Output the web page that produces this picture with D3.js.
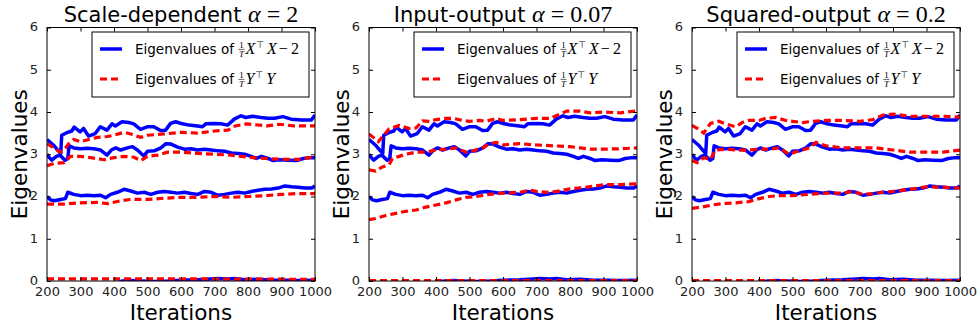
<!DOCTYPE html>
<html>
<head>
<meta charset="utf-8">
<script src="https://cdn.jsdelivr.net/npm/d3@7"></script>
<style>
  body { margin: 0; background: #fff; }
  svg { display: block; }
</style>
</head>
<body>
<div id="chart"></div>
<script>
// ---- data (iteration, eigenvalue) ----
const iterTicks = [200, 300, 400, 500, 600, 700, 800, 900, 1000];
const eigTicks = [0, 1, 2, 3, 4, 5, 6];
const titles = ["Scale-dependent", "Input-output", "Squared-output"];
const alphas = ["2", "0.07", "0.2"];

// blue: eigenvalues of (1/T) X^T X - 2, same in every panel
const blueTop = [[200,3.35],[219,3.22],[234,3.08],[241,3.02],[244,3.45],[259,3.51],[274,3.55],[281,3.64],[299,3.53],[309,3.61],[324,3.43],[344,3.49],[359,3.65],[379,3.57],[394,3.72],[404,3.67],[424,3.77],[444,3.75],[459,3.72],[479,3.59],[499,3.65],[519,3.65],[539,3.56],[554,3.57],[569,3.73],[584,3.77],[604,3.72],[624,3.69],[649,3.67],[664,3.65],[674,3.72],[699,3.73],[719,3.72],[739,3.69],[759,3.83],[779,3.91],[794,3.87],[814,3.90],[839,3.87],[859,3.85],[879,3.85],[904,3.89],[929,3.83],[959,3.81],[989,3.81],[1000,3.93]];
const blueThird = [[200,3.0],[207,2.92],[214,2.86],[228,2.95],[238,2.98],[246,2.92],[254,2.86],[262,2.9],[266,3.2],[280,3.15],[300,3.13],[320,3.14],[340,3.13],[360,3.1],[379,2.98],[392,3.1],[405,3.15],[420,3.1],[440,3.15],[455,3.18],[470,3.1],[489,2.96],[500,3.07],[520,3.08],[540,3.15],[555,3.25],[570,3.24],[590,3.17],[610,3.12],[630,3.13],[650,3.1],[670,3.12],[690,3.1],[710,3.08],[730,3.07],[750,3.03],[770,3.02],[790,3.0],[810,2.95],[825,2.9],[840,2.95],[860,2.9],[875,2.85],[895,2.87],[920,2.86],[945,2.85],[965,2.9],[985,2.92],[1000,2.92]];
const blueSecond = [[200,2.0],[210,1.92],[222,1.9],[240,1.93],[255,1.95],[262,2.1],[280,2.05],[300,2.02],[320,2.03],[340,2.02],[360,2.03],[375,1.97],[390,2.05],[410,2.1],[430,2.17],[450,2.13],[470,2.08],[490,2.1],[510,2.05],[530,2.1],[550,2.12],[570,2.1],[590,2.08],[610,2.1],[630,2.07],[650,2.05],[670,2.12],[690,2.1],[710,2.03],[730,2.05],[750,2.08],[770,2.1],[790,2.08],[810,2.12],[830,2.15],[850,2.17],[870,2.18],[890,2.2],[910,2.25],[930,2.23],[950,2.22],[970,2.2],[990,2.2],[1000,2.25]];
const blueBottom = [[200,-0.06],[410,-0.04],[425,0.0],[450,0.01],[480,0.0],[520,-0.01],[560,0.0],[600,0.02],[650,0.03],[690,0.05],[710,0.06],[740,0.05],[760,0.06],[790,0.03],[830,0.04],[870,0.02],[910,0.02],[950,0.01],[1000,0.02]];

// red: eigenvalues of (1/T) Y^T Y, one set per panel
const redScaleDep = [
  [[200,3.25],[220,3.15],[240,3.05],[255,3.15],[265,3.25],[280,3.35],[300,3.3],[325,3.35],[350,3.4],[380,3.42],[400,3.45],[430,3.52],[450,3.48],[480,3.4],[500,3.45],[550,3.48],[600,3.52],[650,3.5],[700,3.55],[740,3.57],[762,3.67],[796,3.72],[856,3.67],[896,3.71],[936,3.67],[1000,3.67]],
  [[200,2.73],[220,2.78],[250,2.8],[270,2.95],[300,2.95],[330,2.92],[370,2.87],[400,2.92],[430,2.95],[460,2.93],[480,2.85],[500,2.95],[530,2.98],[560,3.05],[600,3.05],[650,3.02],[700,3.0],[750,2.98],[800,2.93],[850,2.9],[900,2.88],[950,2.88],[1000,2.94]],
  [[200,1.82],[250,1.82],[300,1.85],[350,1.86],[380,1.83],[420,1.9],[450,1.93],[500,1.93],[550,1.96],[600,1.98],[650,1.98],[700,2.0],[750,1.98],[800,2.0],[850,2.02],[900,2.05],[950,2.07],[1000,2.07]],
  [[200,0.05],[600,0.05],[1000,0.04]]
];
const redInputOutput = [
  [[200,3.48],[228,3.3],[260,3.6],[290,3.68],[320,3.61],[340,3.62],[360,3.79],[380,3.78],[400,3.82],[430,3.85],[450,3.85],[480,3.8],[500,3.78],[530,3.8],[550,3.78],[580,3.85],[600,3.8],[650,3.82],[700,3.85],[740,3.85],[770,3.95],[790,4.02],[830,4.02],[860,3.98],[900,4.0],[950,3.98],[1000,4.03]],
  [[200,2.63],[220,2.6],[240,2.7],[260,2.75],[270,2.9],[290,2.95],[310,3.0],[340,3.05],[370,3.05],[400,3.1],[430,3.12],[460,3.15],[490,3.05],[510,3.08],[540,3.15],[560,3.25],[580,3.28],[600,3.22],[650,3.25],[700,3.22],[750,3.2],[800,3.18],[830,3.15],[860,3.12],[900,3.12],[950,3.13],[1000,3.15]],
  [[200,1.45],[220,1.48],[250,1.55],[280,1.6],[310,1.65],[340,1.68],[370,1.75],[400,1.8],[430,1.85],[460,1.92],[490,1.98],[520,2.0],[560,2.05],[600,2.08],[650,2.1],[680,2.15],[700,2.12],[730,2.1],[760,2.12],[800,2.18],[850,2.22],[900,2.28],[950,2.28],[1000,2.3]],
  [[200,0.01],[600,0.01],[1000,0.01]]
];
const redSquaredOutput = [
  [[200,3.68],[218,3.6],[235,3.5],[255,3.73],[280,3.78],[300,3.72],[330,3.65],[350,3.75],[370,3.8],[400,3.8],[420,3.85],[450,3.87],[480,3.8],[500,3.78],[530,3.75],[560,3.78],[600,3.8],[650,3.8],[700,3.78],[740,3.82],[770,3.93],[800,3.95],[850,3.9],[900,3.9],[950,3.9],[1000,3.88]],
  [[200,2.85],[215,2.8],[235,2.92],[255,2.88],[270,3.1],[300,3.12],[340,3.1],[370,3.1],[400,3.12],[430,3.12],[460,3.15],[490,3.0],[520,3.08],[550,3.15],[570,3.28],[600,3.2],[650,3.15],[700,3.15],[750,3.15],[800,3.1],[850,3.05],[900,3.05],[950,3.05],[1000,3.1]],
  [[200,1.72],[230,1.75],[260,1.8],[290,1.83],[330,1.85],[370,1.88],[400,1.95],[430,2.0],[460,2.02],[500,2.02],[550,2.05],[600,2.08],[650,2.08],[680,2.12],[710,2.05],[740,2.07],[770,2.1],[800,2.12],[850,2.17],[900,2.23],[950,2.22],[1000,2.2]],
  [[200,0.01],[600,0.01],[1000,0.01]]
];

const blueSeries = [blueTop, blueThird, blueSecond, blueBottom];
const redSeries = [redScaleDep, redInputOutput, redSquaredOutput];

// ---- layout ----
const W = 978, H = 329;
const panelLeft = [47, 369, 692];
const plotW = 268, plotTop = 27.5, plotBottom = 281;
const sans = "'DejaVu Sans', sans-serif";
const serif = "'Liberation Serif', 'DejaVu Serif', serif";

const svg = d3.select("#chart").append("svg")
  .attr("width", W)
  .attr("height", H);

const y = d3.scaleLinear().domain([0, 6]).range([plotBottom, plotTop]);

function legendLabel(g, x, yb, sym, tail) {
  const t = g.append("text")
    .attr("x", x).attr("y", yb)
    .attr("font-family", sans).attr("font-size", 13.5)
    .text("Eigenvalues of");
  // trailing space gets collapsed in svg, so add the gap by hand
  let cx = x + t.node().getComputedTextLength() + 4.5;
  // small 1/T fraction
  g.append("text").attr("x", cx + 3).attr("y", yb - 6)
    .attr("text-anchor", "middle").attr("font-family", serif).attr("font-size", 9)
    .text("1");
  g.append("line").attr("x1", cx).attr("x2", cx + 6)
    .attr("y1", yb - 4.6).attr("y2", yb - 4.6)
    .attr("stroke", "#000").attr("stroke-width", 0.6);
  g.append("text").attr("x", cx + 3).attr("y", yb + 2.8)
    .attr("text-anchor", "middle").attr("font-family", serif).attr("font-style", "italic").attr("font-size", 9)
    .text("T");
  cx += 7;
  const m = g.append("text").attr("x", cx).attr("y", yb)
    .attr("font-family", serif).attr("font-size", 16);
  m.append("tspan").attr("font-style", "italic").text(sym);
  m.append("tspan").attr("dy", -6).attr("dx", 1).attr("font-size", 9).attr("font-family", sans).text("\u22A4");
  m.append("tspan").attr("dy", 6).attr("dx", 3).attr("font-style", "italic").text(sym);
  if (tail) m.append("tspan").attr("dx", 2).text("\u2212");
  if (tail) m.append("tspan").attr("dx", 3).text("2");
}

panelLeft.forEach((left, p) => {
  const x = d3.scaleLinear().domain([200, 1000]).range([left, left + plotW]);
  const g = svg.append("g");

  const clipId = "clip" + p;
  svg.append("clipPath").attr("id", clipId)
    .append("rect")
    .attr("x", left).attr("y", plotTop)
    .attr("width", plotW).attr("height", plotBottom - plotTop);

  const line = d3.line().x(d => x(d[0])).y(d => y(d[1]));
  const lines = g.append("g").attr("clip-path", `url(#${clipId})`);

  blueSeries.forEach(s => {
    lines.append("path")
      .attr("d", line(s))
      .attr("fill", "none")
      .attr("stroke", "#0000ff")
      .attr("stroke-width", 3.5)
      .attr("stroke-linejoin", "round");
  });
  redSeries[p].forEach(s => {
    lines.append("path")
      .attr("d", line(s))
      .attr("fill", "none")
      .attr("stroke", "#ff0000")
      .attr("stroke-width", 3.2)
      .attr("stroke-dasharray", "7,4");
  });

  // axes, ticks inside on every side (classic matplotlib look)
  const tickFmt = d => d;
  g.append("g").attr("transform", `translate(0,${plotBottom})`)
    .call(d3.axisBottom(x).tickValues(iterTicks).tickSizeInner(-4).tickSizeOuter(0).tickPadding(6).tickFormat(tickFmt));
  g.append("g").attr("transform", `translate(0,${plotTop})`)
    .call(d3.axisTop(x).tickValues(iterTicks).tickSizeInner(-4).tickSizeOuter(0).tickFormat(""));
  const yAx = g.append("g").attr("transform", `translate(${left},0)`)
    .call(d3.axisLeft(y).tickValues(eigTicks).tickSizeInner(-4).tickSizeOuter(0).tickPadding(9).tickFormat(tickFmt));
  yAx.selectAll(".tick text").attr("dy", "0.25em");
  g.append("g").attr("transform", `translate(${left + plotW},0)`)
    .call(d3.axisRight(y).tickValues(eigTicks).tickSizeInner(-4).tickSizeOuter(0).tickFormat(""));
  g.selectAll(".domain").remove();
  g.selectAll(".tick text")
    .attr("font-family", sans).attr("font-size", 13).attr("fill", "#222");

  g.append("rect")
    .attr("x", left).attr("y", plotTop)
    .attr("width", plotW).attr("height", plotBottom - plotTop)
    .attr("fill", "none").attr("stroke", "#000").attr("stroke-width", 1);

  // legend
  const lg = g.append("g").attr("transform", `translate(${left + 45},32)`);
  lg.append("rect").attr("width", 217).attr("height", 65)
    .attr("fill", "#fff").attr("stroke", "#000").attr("stroke-width", 1);
  lg.append("line").attr("x1", 8).attr("x2", 30).attr("y1", 17).attr("y2", 17)
    .attr("stroke", "#0000ff").attr("stroke-width", 3.5);
  lg.append("line").attr("x1", 8).attr("x2", 30).attr("y1", 47).attr("y2", 47)
    .attr("stroke", "#ff0000").attr("stroke-width", 3.2).attr("stroke-dasharray", "7,4");
  legendLabel(lg, 43, 22, "X", true);
  legendLabel(lg, 43, 52, "Y", false);

  // title
  const title = g.append("text")
    .attr("x", left + plotW / 2).attr("y", 21.5)
    .attr("text-anchor", "middle")
    .attr("font-family", sans).attr("font-size", 21)
    .text(titles[p] + " ");
  title.append("tspan").attr("font-family", serif).attr("font-style", "italic").attr("font-size", 24).text("\u03B1");
  title.append("tspan").attr("font-family", serif).attr("font-size", 24).text(" = " + alphas[p]);

  // axis labels
  g.append("text")
    .attr("x", left + plotW / 2).attr("y", 320)
    .attr("text-anchor", "middle")
    .attr("font-family", sans).attr("font-size", 21.5)
    .text("Iterations");
  g.append("text")
    .attr("transform", `translate(${left - 20},${(plotTop + plotBottom) / 2}) rotate(-90)`)
    .attr("text-anchor", "middle")
    .attr("font-family", sans).attr("font-size", 21.5)
    .text("Eigenvalues");
});
</script>
</body>
</html>
